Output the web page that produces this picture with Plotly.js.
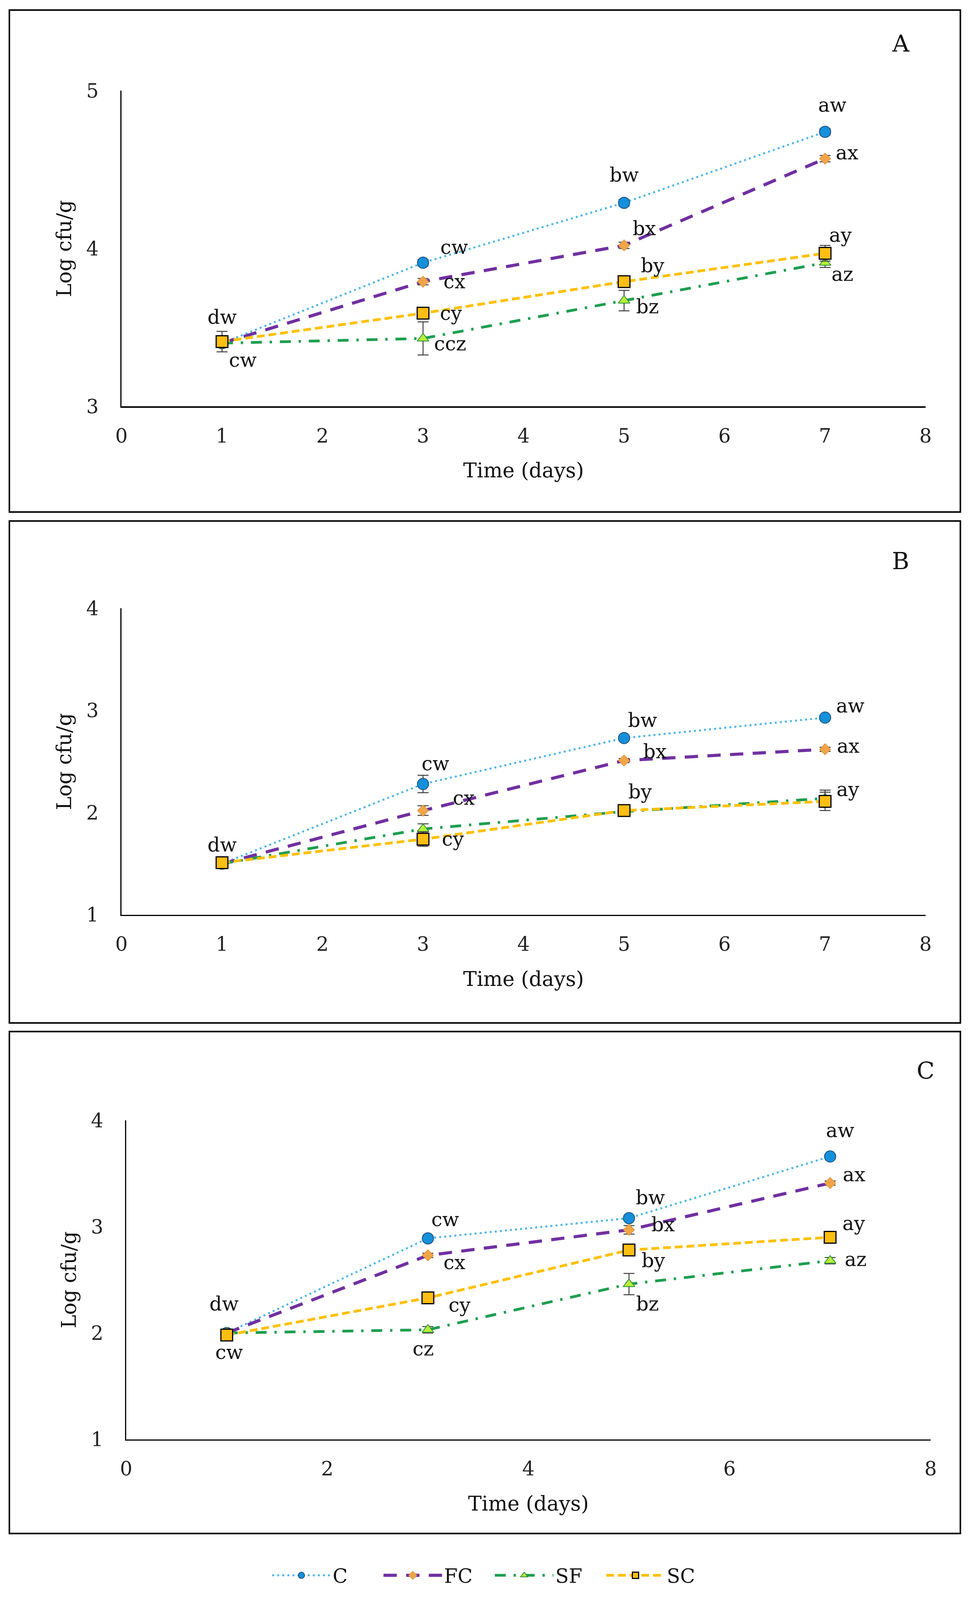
<!DOCTYPE html>
<html>
<head>
<meta charset="utf-8">
<script src="https://cdn.plot.ly/plotly-3.0.1.min.js"></script>
<style>html,body{margin:0;padding:0;background:#fff;overflow:hidden;}</style>
</head>
<body>
<div id="chart"></div>
<script>
// ---------- DATA ----------
const days = [1, 3, 5, 7];
const seriesNames = ["C", "FC", "SF", "SC"];

// Panel A
const A_C  = [3.40, 3.91, 4.29, 4.74];
const A_FC = [3.40, 3.79, 4.02, 4.57];
const A_SF = [3.40, 3.43, 3.67, 3.91];
const A_SC = [3.41, 3.59, 3.79, 3.97];
const A_C_err  = [0.02, 0.02, 0.02, 0.02];
const A_FC_err = [0.02, 0.02, 0.02, 0.02];
const A_SF_err = [0.02, 0.105, 0.065, 0.03];
const A_SC_err = [0.065, 0.03, 0.03, 0.05];
const A_C_lab  = ["dw", "cw", "bw", "aw"];
const A_FC_lab = ["", "cx", "bx", "ax"];
const A_SF_lab = ["", "ccz", "bz", "az"];
const A_SC_lab = ["cw", "cy", "by", "ay"];

// Panel B
const B_C  = [1.50, 2.28, 2.73, 2.93];
const B_FC = [1.50, 2.02, 2.51, 2.62];
const B_SF = [1.50, 1.84, 2.01, 2.14];
const B_SC = [1.51, 1.74, 2.02, 2.11];
const B_C_err  = [0.02, 0.085, 0.02, 0.02];
const B_FC_err = [0.02, 0.047, 0.02, 0.02];
const B_SF_err = [0.02, 0.05, 0.02, 0.08];
const B_SC_err = [0.04, 0.07, 0.02, 0.09];
const B_C_lab  = ["dw", "cw", "bw", "aw"];
const B_FC_lab = ["", "cx", "bx", "ax"];
const B_SF_lab = ["", "", "", ""];
const B_SC_lab = ["", "cy", "by", "ay"];

// Panel C
const C_C  = [2.00, 2.89, 3.08, 3.66];
const C_FC = [2.00, 2.73, 2.97, 3.41];
const C_SF = [2.00, 2.03, 2.46, 2.68];
const C_SC = [1.98, 2.33, 2.78, 2.90];
const C_C_err  = [0.02, 0.02, 0.02, 0.02];
const C_FC_err = [0.02, 0.02, 0.04, 0.02];
const C_SF_err = [0.02, 0.03, 0.10, 0.03];
const C_SC_err = [0.02, 0.02, 0.02, 0.02];
const C_C_lab  = ["dw", "cw", "bw", "aw"];
const C_FC_lab = ["", "cx", "bx", "ax"];
const C_SF_lab = ["", "cz", "bz", "az"];
const C_SC_lab = ["cw", "cy", "by", "ay"];

const yTicksA = [3, 4, 5];
const yTicksBC = [1, 2, 3, 4];
const xTicksAB = [0, 1, 2, 3, 4, 5, 6, 7, 8];
const xTicksC = [0, 2, 4, 6, 8];
const panelLetters = ["A", "B", "C"];
const xTitle = "Time (days)";
const yTitle = "Log cfu/g";

// ---------- STYLE / LAYOUT ----------
const W = 2498, H = 4281;              // reference size
// fit the whole figure into the visible window height (keeps proportions of the reference)
const vh = window.innerHeight;
const HH = (vh && vh > 1000 && vh < H) ? vh : H;
const s = HH / H;
document.getElementById("chart").style.width = W + "px";
document.getElementById("chart").style.height = HH + "px";

const FONT = "DejaVu Serif, Liberation Serif, serif";
const styles = {
  C:  {line: {color: "#4DB5E6", width: 5, dash: "5px,8px"},
       marker: {symbol: "circle", size: 29, color: "#1590DA", line: {color: "#1F4E79", width: 2}}},
  FC: {line: {color: "#7030A0", width: 8, dash: "34px,24px"},
       marker: {symbol: "diamond", size: 22, color: "#F2A548", line: {color: "#D8903C", width: 1.5}}},
  SF: {line: {color: "#1E9E50", width: 7, dash: "28px,20px,6px,20px"},
       marker: {symbol: "triangle-up", size: 26, color: "#B5F03A", line: {color: "#2E8B3A", width: 2}}},
  SC: {line: {color: "#FFC000", width: 7, dash: "20px,10px"},
       marker: {symbol: "square", size: 30, color: "#FFBE12", line: {color: "#000000", width: 3}}}
};

// label offsets in reference px (dx, dy; dy positive = down)
const offsets = {
  A: {C: [[0,-70],[80,-41],[0,-74],[19,-72]], FC: [null,[80,0],[52,-45],[56,-16]],
      SF: [null,[69,14],[60,16],[44,31]], SC: [[53,50],[72,0],[73,-43],[40,-48]]},
  B: {C: [[0,-50],[32,-54],[47,-47],[65,-31]], FC: [null,[104,-34],[79,-24],[59,-9]],
      SF: [null,null,null,null], SC: [null,[77,0],[41,-50],[59,-32]]},
  C: {C: [[-7,-78],[44,-50],[55,-55],[26,-70]], FC: [null,[68,19],[87,-14],[61,-23]],
      SF: [null,[-12,51],[47,53],[65,-4]], SC: [[6,46],[81,19],[63,28],[61,-37]]}
};

const panels = [
  {key: "A", xa: "x",  ya: "y",  vals: {C: A_C, FC: A_FC, SF: A_SF, SC: A_SC},
   errs: {C: A_C_err, FC: A_FC_err, SF: A_SF_err, SC: A_SC_err},
   labs: {C: A_C_lab, FC: A_FC_lab, SF: A_SF_lab, SC: A_SC_lab}},
  {key: "B", xa: "x2", ya: "y2", vals: {C: B_C, FC: B_FC, SF: B_SF, SC: B_SC},
   errs: {C: B_C_err, FC: B_FC_err, SF: B_SF_err, SC: B_SC_err},
   labs: {C: B_C_lab, FC: B_FC_lab, SF: B_SF_lab, SC: B_SC_lab}},
  {key: "C", xa: "x3", ya: "y3", vals: {C: C_C, FC: C_FC, SF: C_SF, SC: C_SC},
   errs: {C: C_C_err, FC: C_FC_err, SF: C_SF_err, SC: C_SC_err},
   labs: {C: C_C_lab, FC: C_FC_lab, SF: C_SF_lab, SC: C_SC_lab}}
];

const traces = [];
const annotations = [];
panels.forEach((p, pi) => {
  seriesNames.forEach(name => {
    const st = styles[name];
    traces.push({
      type: "scatter", mode: "lines+markers", name: name,
      x: days, y: p.vals[name], xaxis: p.xa, yaxis: p.ya,
      showlegend: pi === 2, legendgroup: name,
      line: st.line, marker: st.marker,
      error_y: {type: "data", array: p.errs[name], visible: true, color: "#404040", thickness: 2.5, width: 14}
    });
    p.labs[name].forEach((t, i) => {
      const off = offsets[p.key][name][i];
      if (!t || !off) return;
      annotations.push({
        xref: p.xa, yref: p.ya, x: days[i], y: p.vals[name][i], text: t, showarrow: false,
        xshift: off[0], yshift: -off[1] * s, xanchor: "center", yanchor: "middle",
        font: {family: FONT, size: 50, color: "#111111"}
      });
    });
  });
});

// panel letters (reference px)
const letterPos = [[2305, 116], [2305, 1501], [2369, 2865]];
panelLetters.forEach((L, i) => {
  annotations.push({xref: "paper", yref: "paper", x: letterPos[i][0] / W, y: 1 - letterPos[i][1] / H,
    text: L, showarrow: false, xanchor: "center", yanchor: "middle",
    font: {family: FONT, size: 60, color: "#111111"}});
});

// panel frames (reference px)
const frames = [[24, 27, 2458, 1370], [24, 1394, 2458, 2737], [24, 2760, 2458, 4103]];
const shapes = frames.map(f => ({type: "rect", xref: "paper", yref: "paper",
  x0: f[0] / W, x1: f[2] / W, y0: 1 - f[3] / H, y1: 1 - f[1] / H,
  line: {color: "#000000", width: 4}, fillcolor: "rgba(0,0,0,0)", layer: "below"}));

function xax(domain, tickvals, anchor) {
  return {domain: domain, range: [0, 8], tickvals: tickvals, ticktext: tickvals.map(String),
    showline: true, linecolor: "#000", linewidth: 3.5, showgrid: false, zeroline: false,
    ticks: "", ticklabelstandoff: Math.round(30 * s), anchor: anchor,
    tickfont: {family: FONT, size: 50, color: "#222"},
    title: {text: xTitle, standoff: Math.round(45 * s), font: {family: FONT, size: 52, color: "#111"}}};
}
function yax(domain, range, tickvals, anchor) {
  return {domain: domain, range: range, tickvals: tickvals, ticktext: tickvals.map(String),
    showline: true, linecolor: "#000", linewidth: 3.5, showgrid: false, zeroline: false,
    ticks: "", ticklabelstandoff: 45, anchor: anchor,
    tickfont: {family: FONT, size: 50, color: "#222"},
    title: {text: yTitle, standoff: 22, font: {family: FONT, size: 52, color: "#111"}}};
}

const layout = {
  width: W, height: HH, margin: {l: 0, r: 0, t: 0, b: 0},
  paper_bgcolor: "#fff", plot_bgcolor: "rgba(0,0,0,0)",
  showlegend: true,
  xaxis:  xax([311 / W, 2369 / W], xTicksAB, "y"),
  yaxis:  yax([1 - 1087 / H, 1 - 243 / H], [3, 5], yTicksA, "x"),
  xaxis2: xax([311 / W, 2369 / W], xTicksAB, "y2"),
  yaxis2: yax([1 - 2447.6 / H, 1 - 1627.6 / H], [1, 4], yTicksBC, "x2"),
  xaxis3: xax([323 / W, 2382 / W], xTicksC, "y3"),
  yaxis3: yax([1 - 3851 / H, 1 - 2997.6 / H], [1, 4], yTicksBC, "x3"),
  legend: {orientation: "h", x: 0.505, xanchor: "center", y: 1 - 4215 / H, yanchor: "middle",
    font: {family: FONT, size: 50, color: "#111"}, itemwidth: 150,
    entrywidth: 120, entrywidthmode: "pixels", traceorder: "normal",
    bgcolor: "rgba(0,0,0,0)"},
  annotations: annotations, shapes: shapes
};

Plotly.newPlot("chart", traces, layout, {staticPlot: true});
</script>
</body>
</html>
